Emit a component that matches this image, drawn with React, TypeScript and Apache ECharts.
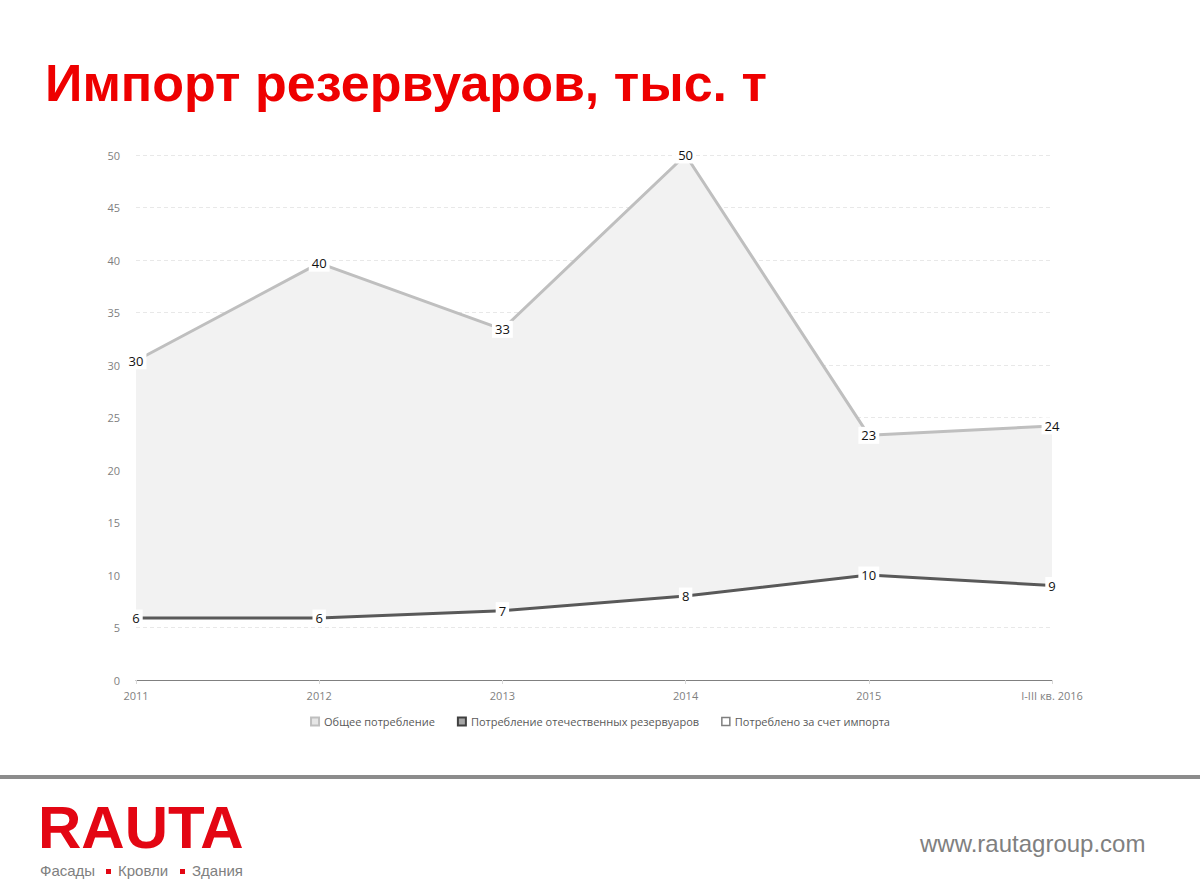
import React, { useEffect, useRef } from "react";
import * as echarts from "echarts";

const categories = ["2011", "2012", "2013", "2014", "2015", "I-III кв. 2016"];
const totalValues = [30.4, 39.7, 33.4, 50, 23.3, 24.2];
const domesticValues = [5.9, 5.9, 6.6, 8, 10, 9];
const yTicks = [0, 5, 10, 15, 20, 25, 30, 35, 40, 45, 50];
const seriesNames = [
  "Общее потребление",
  "Потребление отечественных резервуаров",
  "Потреблено за счет импорта",
];
const titleText = "Импорт резервуаров, тыс. т";

export default function App() {
  const ref = useRef<HTMLDivElement>(null);
  useEffect(() => {
    if (!ref.current) return;
    const chart = echarts.init(ref.current, undefined, { renderer: "svg" });
    const importValues = totalValues.map((t, i) => +(t - domesticValues[i]).toFixed(2));
    const font = "'Open Sans', 'Noto Sans', sans-serif";
    const sans = "'Liberation Sans', Arial, sans-serif";
    const labelCfg = {
      show: true,
      position: "inside",
      formatter: (p: any) => String(Math.round(p.value)),
      backgroundColor: "#ffffff",
      padding: [2, 3, 2, 3],
      color: "#111111",
      fontSize: 13,
      fontFamily: font,
    };
    chart.setOption({
      animation: false,
      backgroundColor: "#ffffff",
      title: {
        text: titleText,
        left: 40,
        top: 52,
        textStyle: {
          color: "#ee0000",
          fontSize: 52,
          fontWeight: "bold",
          fontFamily: sans,
        },
      },
      grid: { left: 136, right: 148, top: 155, bottom: 214, containLabel: false },
      legend: {
        bottom: 162,
        left: "center",
        itemWidth: 8,
        itemHeight: 8,
        itemGap: 22,
        textStyle: { color: "#595959", fontSize: 11, fontFamily: font },
        data: [
          {
            name: seriesNames[0],
            icon: "rect",
            itemStyle: { color: "#e6e6e6", borderColor: "#bfbfbf", borderWidth: 2 },
          },
          {
            name: seriesNames[1],
            icon: "rect",
            itemStyle: { color: "#a6a6a6", borderColor: "#404040", borderWidth: 2 },
          },
          {
            name: seriesNames[2],
            icon: "rect",
            itemStyle: { color: "#ffffff", borderColor: "#7f7f7f", borderWidth: 1.5 },
          },
        ],
      },
      xAxis: {
        type: "category",
        data: categories,
        boundaryGap: false,
        axisLine: { lineStyle: { color: "#808080", width: 1 } },
        axisTick: { show: true, length: 4, lineStyle: { color: "#d9d9d9" } },
        axisLabel: { color: "#7f7f7f", fontSize: 11, fontFamily: font, margin: 10 },
      },
      yAxis: {
        type: "value",
        min: yTicks[0],
        max: yTicks[yTicks.length - 1],
        interval: 5,
        axisLine: { show: false },
        axisTick: { show: false },
        axisLabel: { color: "#7f7f7f", fontSize: 11, fontFamily: font, margin: 16 },
        splitLine: { lineStyle: { color: "#e8e8e8", type: [4, 3] } },
      },
      series: [
        {
          name: seriesNames[1],
          type: "line",
          stack: "a",
          data: domesticValues,
          symbol: "circle",
          symbolSize: 0.1,
          lineStyle: { color: "#595959", width: 3 },
          itemStyle: { color: "#595959" },
          label: labelCfg,
          z: 4,
        },
        {
          name: seriesNames[2],
          type: "line",
          stack: "a",
          data: importValues,
          symbol: "none",
          lineStyle: { width: 0, color: "#f2f2f2" },
          itemStyle: { color: "#f2f2f2" },
          areaStyle: { color: "#f2f2f2", opacity: 1 },
          z: 1,
        },
        {
          name: seriesNames[0],
          type: "line",
          data: totalValues,
          symbol: "circle",
          symbolSize: 0.1,
          lineStyle: { color: "#bfbfbf", width: 3 },
          itemStyle: { color: "#bfbfbf" },
          label: labelCfg,
          z: 3,
        },
      ],
      graphic: [
        {
          type: "rect",
          shape: { x: 0, y: 775, width: 1200, height: 4 },
          style: { fill: "#8c8c8c" },
        },
        {
          type: "text",
          x: 38,
          y: 797,
          style: {
            text: "RAUTA",
            fill: "#e30613",
            fontSize: 60,
            fontWeight: "bold",
            fontFamily: sans,
          },
        },
        {
          type: "text",
          x: 40,
          y: 863,
          style: { text: "Фасады", fill: "#808080", fontSize: 15, fontFamily: sans },
        },
        {
          type: "rect",
          shape: { x: 106, y: 869, width: 5, height: 5 },
          style: { fill: "#e30613" },
        },
        {
          type: "text",
          x: 118,
          y: 863,
          style: { text: "Кровли", fill: "#808080", fontSize: 15, fontFamily: sans },
        },
        {
          type: "rect",
          shape: { x: 180, y: 869, width: 5, height: 5 },
          style: { fill: "#e30613" },
        },
        {
          type: "text",
          x: 192,
          y: 863,
          style: { text: "Здания", fill: "#808080", fontSize: 15, fontFamily: sans },
        },
        {
          type: "text",
          x: 920,
          y: 831,
          style: {
            text: "www.rautagroup.com",
            fill: "#808080",
            fontSize: 24,
            fontFamily: sans,
          },
        },
      ],
    });
    return () => chart.dispose();
  }, []);
  return (
    <div
      ref={ref}
      style={{ position: "absolute", left: 0, top: 0, width: 1200, height: 894 }}
    />
  );
}
